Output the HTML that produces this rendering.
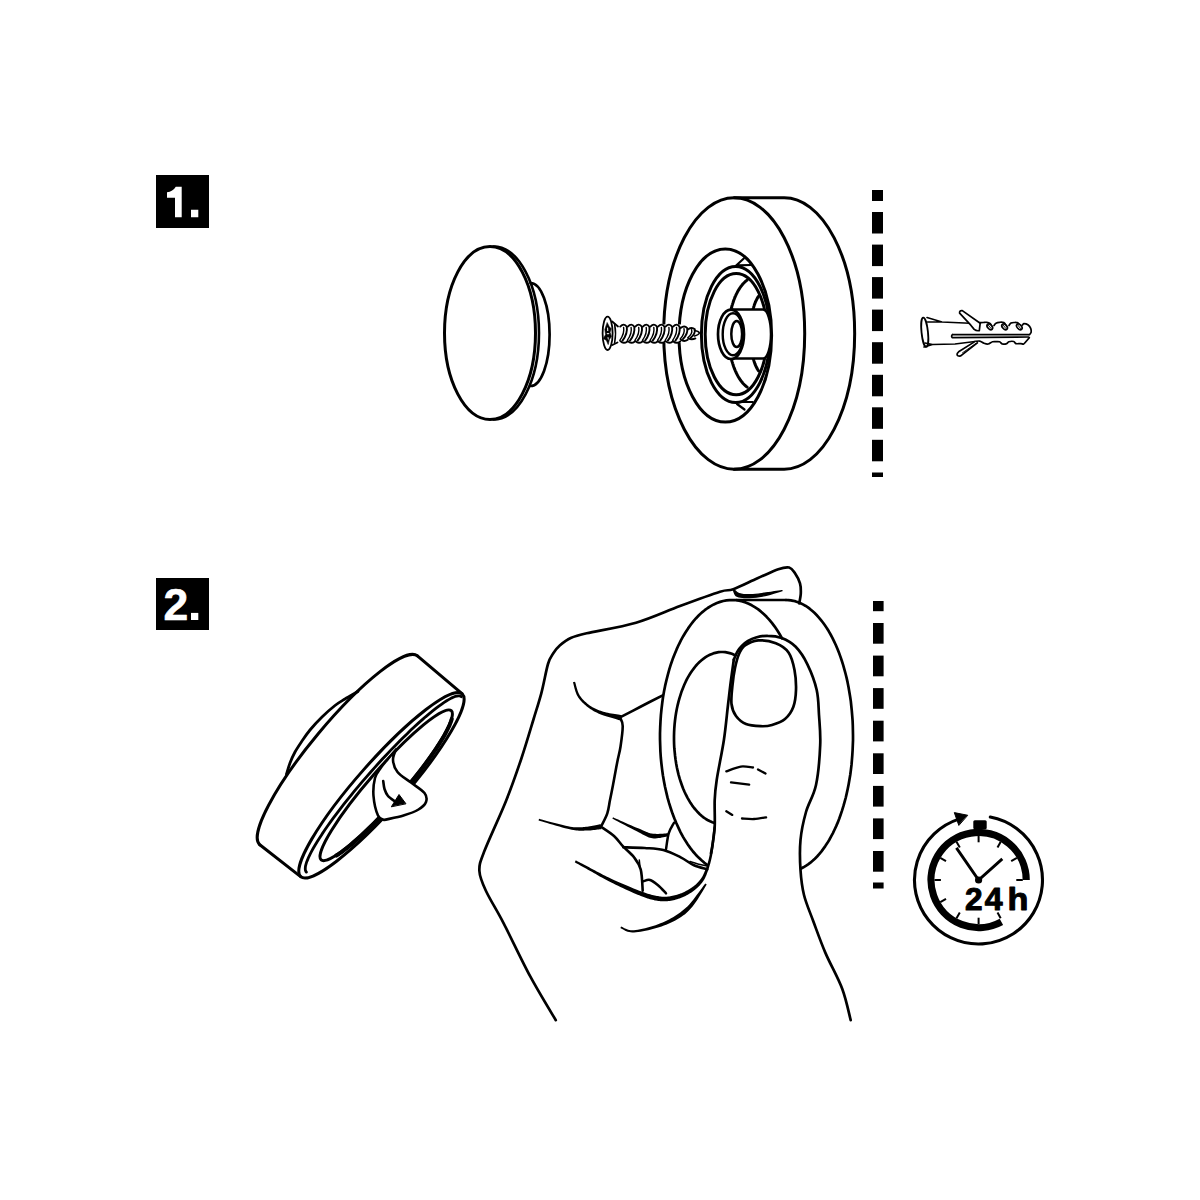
<!DOCTYPE html>
<html><head><meta charset="utf-8"><style>
html,body{margin:0;padding:0;background:#fff;}
svg{display:block;}
</style></head><body>
<svg width="1200" height="1200" viewBox="0 0 1200 1200" stroke-linecap="round" stroke-linejoin="round">
<rect width="1200" height="1200" fill="#fff"/>
<rect x="156" y="175" width="53" height="53" fill="#000"/>
<path d="M175.8 186.8 L181.7 186.8 L181.7 217.3 L175 217.3 L175 197.7 L167 197.7 L167 192.2 Q172.8 191.8 175.8 186.8 Z M191 209.8 L198.3 209.8 L198.3 217.3 L191 217.3 Z" fill="#fff"/>
<rect x="156" y="578" width="53" height="52" fill="#000"/>
<text x="163.5" y="619.5" font-family="Liberation Sans" font-weight="bold" font-size="44.5" fill="#fff" stroke="#fff" stroke-width="0.6">2</text>
<path d="M191 612.9 L198.3 612.9 L198.3 620 L191 620 Z" fill="#fff"/>
<ellipse cx="490" cy="333" rx="45.5" ry="86.5" fill="none" stroke="#000" stroke-width="3.0"/>
<path d="M493.5 246.5 A45.5 86.5 0 0 1 493.5 419.5" fill="none" stroke="#000" stroke-width="2.6"/>
<path d="M530.6 283 A19 51.5 0 0 1 530.6 386" fill="none" stroke="#000" stroke-width="2.7"/>
<ellipse cx="734.2" cy="333.5" rx="70.5" ry="135.7" fill="none" stroke="#000" stroke-width="3.0"/>
<path d="M734.2 197.8 L784.2 197.8 A70.5 135.7 0 0 1 784.2 469.2 L734.2 469.2" fill="none" stroke="#000" stroke-width="3.0"/>
<ellipse cx="725.3" cy="335.5" rx="46.3" ry="86.6" fill="none" stroke="#000" stroke-width="3.0"/>
<ellipse cx="735.7" cy="334.5" rx="34.3" ry="68" fill="none" stroke="#000" stroke-width="3.0"/>
<ellipse cx="736.2" cy="334.2" rx="31" ry="60.6" fill="none" stroke="#000" stroke-width="3.0"/>
<path d="M747.2 280.0 L746.7 280.4 L746.2 280.8 L745.7 281.3 L745.1 281.7 L744.6 282.2 L744.1 282.7 L743.6 283.2 L743.1 283.7 L742.6 284.3 L742.2 284.9 L741.7 285.5 L741.2 286.1 L740.7 286.7 L740.3 287.3 L739.8 288.0 L739.4 288.7 L739.0 289.4 L738.5 290.1 L738.1 290.8 L737.7 291.6 L737.3 292.3 L736.9 293.1 L736.5 293.9 L736.1 294.7 L735.7 295.6 L735.3 296.4 L735.0 297.2 L734.6 298.1 L734.3 299.0 L733.9 299.9 L733.6 300.8 L733.3 301.7 L733.0 302.7 L732.7 303.6 L732.4 304.6 L732.1 305.5 L731.8 306.5 L731.6 307.5 L731.3 308.5 L731.1 309.5" fill="none" stroke="#000" stroke-width="3.0"/>
<path d="M731.1 357.7 L731.3 358.7 L731.6 359.7 L731.8 360.7 L732.1 361.7 L732.4 362.6 L732.7 363.6 L733.0 364.5 L733.3 365.5 L733.6 366.4 L733.9 367.3 L734.3 368.2 L734.6 369.1 L735.0 370.0 L735.3 370.8 L735.7 371.6 L736.1 372.5 L736.5 373.3 L736.9 374.1 L737.3 374.9 L737.7 375.6 L738.1 376.4 L738.5 377.1 L739.0 377.8 L739.4 378.5 L739.8 379.2 L740.3 379.9 L740.7 380.5 L741.2 381.1 L741.7 381.7 L742.2 382.3 L742.6 382.9 L743.1 383.5 L743.6 384.0 L744.1 384.5 L744.6 385.0 L745.1 385.5 L745.7 385.9 L746.2 386.4 L746.7 386.8 L747.2 387.2" fill="none" stroke="#000" stroke-width="3.0"/>
<path d="M758.7 296.2 L758.5 296.4 L758.3 296.7 L758.2 296.9 L758.0 297.2 L757.8 297.4 L757.7 297.7 L757.5 297.9 L757.3 298.2 L757.2 298.5 L757.0 298.8 L756.9 299.1 L756.7 299.4 L756.6 299.7 L756.4 300.0 L756.3 300.3 L756.1 300.6 L756.0 300.9 L755.8 301.2 L755.7 301.6 L755.5 301.9 L755.4 302.2 L755.2 302.6 L755.1 302.9 L755.0 303.3 L754.8 303.6 L754.7 304.0 L754.6 304.4 L754.4 304.7 L754.3 305.1 L754.2 305.5 L754.1 305.9 L753.9 306.3 L753.8 306.7 L753.7 307.1 L753.6 307.5 L753.5 307.9 L753.3 308.3 L753.2 308.7 L753.1 309.1 L753.0 309.5" fill="none" stroke="#000" stroke-width="3.0"/>
<path d="M753.0 357.7 L753.1 358.1 L753.2 358.5 L753.3 358.9 L753.5 359.3 L753.6 359.7 L753.7 360.1 L753.8 360.5 L753.9 360.9 L754.1 361.3 L754.2 361.7 L754.3 362.1 L754.4 362.5 L754.6 362.8 L754.7 363.2 L754.8 363.6 L755.0 363.9 L755.1 364.3 L755.2 364.6 L755.4 365.0 L755.5 365.3 L755.7 365.6 L755.8 366.0 L756.0 366.3 L756.1 366.6 L756.3 366.9 L756.4 367.2 L756.6 367.5 L756.7 367.8 L756.9 368.1 L757.0 368.4 L757.2 368.7 L757.3 369.0 L757.5 369.3 L757.7 369.5 L757.8 369.8 L758.0 370.0 L758.2 370.3 L758.3 370.5 L758.5 370.8 L758.7 371.0" fill="none" stroke="#000" stroke-width="3.0"/>
<path d="M737.8 265.4 L750.5 265 M735.9 265.8 L743.8 258.5" fill="none" stroke="#000" stroke-width="2.2"/>
<path d="M741.5 402 L752.8 402 M737 404 L744.5 409.5" fill="none" stroke="#000" stroke-width="2.2"/>
<path d="M731 309.6 L763 309.6 A8 24.5 0 0 1 763 358.6 L730 358.6 Z" fill="#fff" stroke="#000" stroke-width="2.5"/>
<ellipse cx="731" cy="334.3" rx="13" ry="24.7" fill="#fff" stroke="#000" stroke-width="2.7"/>
<ellipse cx="733" cy="334.2" rx="10.3" ry="21" fill="none" stroke="#000" stroke-width="2.4"/>
<ellipse cx="736.7" cy="334" rx="5.4" ry="13" fill="none" stroke="#000" stroke-width="2.5"/>
<g stroke-linecap="round">
<path d="M613 322 L620 324.5 L690 324.5 L699 332 L690 342.5 L620 343 L613 345 Z" fill="#fff" stroke="none"/>
<ellipse cx="607.6" cy="333.3" rx="5" ry="16.7" fill="#fff" stroke="#000" stroke-width="1.8"/>
<path d="M612.2 321.5 L618 326.5 M612.4 345 L617.5 342.5" fill="none" stroke="#000" stroke-width="1.8"/>
<path d="M614.6 324 Q616.5 333.5 614.6 343" fill="none" stroke="#000" stroke-width="1.5"/>
<path d="M607.3 322.8 L609.2 326.5 L611.2 328.8 L610 332.2 L611.4 336.4 L609.4 339.6 L608.2 344.6 L606.4 340.4 L603.4 338.6 L605.6 334.6 L604.8 329.6 L605.8 326.4 Z" fill="#000" stroke="#000" stroke-width="0.6"/>
<path d="M606.4 333.6 Q608 332.6 609.6 333.6 Q608 335.2 606.4 333.6 Z M607.1 327.6 L608.1 327.8 L608.3 331 L607.2 331 Z M607.4 337.2 L608.8 337.6 L608.2 340.4 Z" fill="#fff"/>
<path d="M620.2 326.6 Q624.0 322.6 626.8 326.8 Q627.8 333.5 622.5 340.6" fill="none" stroke="#000" stroke-width="1.9"/>
<path d="M623.6 327.4 Q624.8 333.5 619.8 340.3" fill="none" stroke="#000" stroke-width="1.4"/>
<path d="M620.4 341.2 Q623.6 344.4 627.4 341.4" fill="none" stroke="#000" stroke-width="1.9"/>
<path d="M627.8 326.6 Q631.5 322.6 634.3 326.8 Q635.3 333.5 630.0 340.6" fill="none" stroke="#000" stroke-width="1.9"/>
<path d="M631.1 327.4 Q632.3 333.5 627.3 340.3" fill="none" stroke="#000" stroke-width="1.4"/>
<path d="M627.9 341.2 Q631.1 344.4 634.9 341.4" fill="none" stroke="#000" stroke-width="1.9"/>
<path d="M635.3 326.6 Q639.1 322.6 641.9 326.8 Q642.9 333.5 637.6 340.6" fill="none" stroke="#000" stroke-width="1.9"/>
<path d="M638.7 327.4 Q639.9 333.5 634.9 340.3" fill="none" stroke="#000" stroke-width="1.4"/>
<path d="M635.5 341.2 Q638.7 344.4 642.5 341.4" fill="none" stroke="#000" stroke-width="1.9"/>
<path d="M642.9 326.6 Q646.6 322.6 649.4 326.8 Q650.4 333.5 645.1 340.6" fill="none" stroke="#000" stroke-width="1.9"/>
<path d="M646.2 327.4 Q647.4 333.5 642.4 340.3" fill="none" stroke="#000" stroke-width="1.4"/>
<path d="M643.0 341.2 Q646.2 344.4 650.0 341.4" fill="none" stroke="#000" stroke-width="1.9"/>
<path d="M650.4 326.6 Q654.2 322.6 657.0 326.8 Q658.0 333.5 652.7 340.6" fill="none" stroke="#000" stroke-width="1.9"/>
<path d="M653.8 327.4 Q655.0 333.5 650.0 340.3" fill="none" stroke="#000" stroke-width="1.4"/>
<path d="M650.6 341.2 Q653.8 344.4 657.6 341.4" fill="none" stroke="#000" stroke-width="1.9"/>
<path d="M658.0 326.6 Q661.8 322.6 664.5 326.8 Q665.5 333.5 660.2 340.6" fill="none" stroke="#000" stroke-width="1.9"/>
<path d="M661.4 327.4 Q662.5 333.5 657.5 340.3" fill="none" stroke="#000" stroke-width="1.4"/>
<path d="M658.1 341.2 Q661.4 344.4 665.1 341.4" fill="none" stroke="#000" stroke-width="1.9"/>
<path d="M665.5 326.6 Q669.3 322.6 672.1 326.8 Q673.1 333.5 667.8 340.6" fill="none" stroke="#000" stroke-width="1.9"/>
<path d="M668.9 327.4 Q670.1 333.5 665.1 340.3" fill="none" stroke="#000" stroke-width="1.4"/>
<path d="M665.7 341.2 Q668.9 344.4 672.7 341.4" fill="none" stroke="#000" stroke-width="1.9"/>
<path d="M673.1 326.6 Q676.9 322.6 679.6 326.8 Q680.6 333.5 675.4 340.6" fill="none" stroke="#000" stroke-width="1.9"/>
<path d="M676.5 327.4 Q677.6 333.5 672.6 340.3" fill="none" stroke="#000" stroke-width="1.4"/>
<path d="M673.2 341.2 Q676.5 344.4 680.2 341.4" fill="none" stroke="#000" stroke-width="1.9"/>
<path d="M680.6 328.0 Q684.4 324.8 687.2 328.1 Q688.2 333.5 682.9 339.2" fill="none" stroke="#000" stroke-width="1.9"/>
<path d="M684.0 328.6 Q685.2 333.5 680.2 338.9" fill="none" stroke="#000" stroke-width="1.4"/>
<path d="M680.8 339.7 Q684.0 342.2 687.8 339.8" fill="none" stroke="#000" stroke-width="1.9"/>
<path d="M688.2 329.2 Q692.0 326.7 694.8 329.3 Q695.8 333.5 690.5 337.9" fill="none" stroke="#000" stroke-width="1.9"/>
<path d="M691.6 329.7 Q692.8 333.5 687.8 337.7" fill="none" stroke="#000" stroke-width="1.4"/>
<path d="M688.4 338.3 Q691.6 340.3 695.4 338.4" fill="none" stroke="#000" stroke-width="1.9"/>
<path d="M694.5 330.5 Q698.5 331 699.5 333 Q698.5 335 694.5 336" fill="none" stroke="#000" stroke-width="1.6"/>
</g>
<g stroke-linejoin="round">
<ellipse cx="924.75" cy="332.25" rx="3.2" ry="14.75" fill="none" stroke="#000" stroke-width="1.8" transform="rotate(-6 924.75 332.25)"/>
<path d="M927 317.5 L942 322 L970 323.2 M927.5 322 L942 322" fill="none" stroke="#000" stroke-width="1.6"/>
<path d="M924 347 L932.5 344.5 L955 344 L975 341.5 M925 343 L932.5 344.5" fill="none" stroke="#000" stroke-width="1.6"/>
<path d="M962.3 310.6 Q959.2 310.2 959.6 313.2 L970.8 325.2 L974.2 329.4 Q976.5 331.2 979.3 330.6 L980.2 323.2 Z" fill="#fff" stroke="#000" stroke-width="1.7"/>
<path d="M979.7 322.7 C980.3 322.7 982.1 322.6 983.3 322.5 C984.5 322.4 985.7 322.1 986.8 322.3 C987.9 322.5 989.2 322.9 990.0 323.5 C990.8 324.1 991.5 325.8 991.8 326.2 M994.0 325.5 C994.3 325.1 995.1 323.7 996.0 323.2 C996.9 322.7 998.3 322.4 999.6 322.3 C1000.9 322.2 1002.6 322.0 1003.8 322.6 C1005.0 323.2 1006.2 325.6 1006.7 326.2 M1009.0 325.5 C1009.3 325.1 1010.2 323.5 1011.0 323.0 C1011.8 322.5 1012.8 322.5 1014.0 322.5 C1015.2 322.5 1016.9 322.2 1018.0 323.0 C1019.1 323.8 1020.3 326.3 1020.8 327.0 M1022.5 325.0 C1022.8 324.8 1023.1 323.6 1024.0 323.6 C1024.9 323.6 1026.8 324.0 1027.9 324.8 C1029.0 325.6 1030.2 327.1 1030.7 328.4 C1031.2 329.7 1031.3 331.3 1031.1 332.4 C1030.9 333.4 1029.6 334.3 1029.3 334.7" fill="none" stroke="#000" stroke-width="1.7"/>
<ellipse cx="989.8" cy="326.8" rx="3.4" ry="2.1" transform="rotate(48 989.8 326.8)" fill="#fff" stroke="#000" stroke-width="1.7"/>
<path d="M988.2 325.0 L991.2 328.6" fill="none" stroke="#000" stroke-width="0.9"/>
<ellipse cx="1004.6" cy="326.8" rx="3.4" ry="2.1" transform="rotate(48 1004.6 326.8)" fill="#fff" stroke="#000" stroke-width="1.7"/>
<path d="M1003.0 325.0 L1006.0 328.6" fill="none" stroke="#000" stroke-width="0.9"/>
<ellipse cx="1019.3" cy="326.8" rx="3.4" ry="2.1" transform="rotate(48 1019.3 326.8)" fill="#fff" stroke="#000" stroke-width="1.7"/>
<path d="M1017.7 325.0 L1020.7 328.6" fill="none" stroke="#000" stroke-width="0.9"/>
<path d="M952.3 334.7 L1028.6 334.7 M952.3 337.6 L1028.6 337 M952.3 334.7 Q951 336.2 952.3 337.6" fill="none" stroke="#000" stroke-width="1.7"/>
<path d="M975.0 341.5 C975.8 341.4 978.2 340.8 979.7 341.1 C981.2 341.4 982.6 342.7 984.0 343.2 C985.4 343.7 986.8 344.2 988.2 344.0 C989.6 343.8 991.2 342.2 992.5 341.8 C993.8 341.4 994.8 341.6 996.0 341.6 C997.2 341.6 998.5 341.4 999.6 341.8 C1000.7 342.2 1001.2 343.7 1002.4 344.0 C1003.6 344.3 1005.6 344.0 1006.7 343.6 C1007.8 343.2 1007.6 342.2 1008.8 341.8 C1010.0 341.4 1012.5 341.2 1013.7 341.5 C1014.9 341.8 1014.7 343.2 1015.9 343.6 C1017.1 344.0 1019.5 343.5 1020.8 343.6 C1022.1 343.7 1022.8 344.4 1023.7 344.0 C1024.7 343.6 1025.6 342.1 1026.5 341.0 C1027.4 339.9 1028.8 338.2 1029.3 337.6" fill="none" stroke="#000" stroke-width="1.7"/>
<path d="M974.8 341.6 L958.6 351.8 Q955.8 354.3 958 355.8 Q960 356.8 962 354.8 L977.4 342.8" fill="#fff" stroke="#000" stroke-width="1.7"/>
<path d="M962.5 352.8 L976.2 343.2" fill="none" stroke="#000" stroke-width="0.9"/>
</g>
<g fill="none" stroke="#000" stroke-linecap="round" stroke-linejoin="round">
<g transform="translate(338.6 750.35) rotate(-50.15)"><path d="M123 0 A123 26.3 0 0 0 -123 0" stroke-width="3"/></g>
<path d="M358.0 691.5 C355.8 692.8 348.8 696.7 345.0 699.0 C341.2 701.3 338.8 702.5 335.0 705.5 C331.2 708.5 326.2 712.9 322.0 717.0 C317.8 721.1 313.3 726.0 310.0 730.0 C306.7 734.0 304.5 737.3 302.0 741.0 C299.5 744.7 297.0 748.3 295.0 752.0 C293.0 755.7 291.4 759.3 290.0 763.0 C288.6 766.7 287.1 772.2 286.5 774.0" fill="none" stroke="#000" stroke-width="2.8"/>
<path d="M417.4 655.9 L462 693.6 M259.8 844.8 L300.6 876.6" fill="none" stroke="#000" stroke-width="3"/>
<g transform="translate(381.75 785.5) rotate(-48.57)"><ellipse cx="0" cy="-0.4" rx="122" ry="23.6" stroke-width="3"/><path d="M-114.8 0.8 L-114.6 -0.1 L-114.1 -1.1 L-113.3 -2.0 L-112.2 -2.9 L-110.8 -3.9 L-109.0 -4.8 L-107.0 -5.7 L-104.6 -6.5 L-102.0 -7.4 L-99.1 -8.2 L-95.9 -9.0 L-92.4 -9.8 L-88.7 -10.5 L-84.7 -11.2 L-80.5 -11.9 L-76.0 -12.6 L-71.4 -13.2 L-66.5 -13.8 L-61.5 -14.3 L-56.3 -14.8 L-50.9 -15.2 L-45.3 -15.6 L-39.7 -16.0 L-33.9 -16.3 L-28.0 -16.6 L-22.1 -16.8 L-16.1 -17.0 L-10.0 -17.1 L-3.9 -17.2 L2.2 -17.2 L8.4 -17.2 L14.5 -17.1 L20.6 -17.0 L26.6 -16.8 L32.5 -16.6 L38.4 -16.3 L44.2 -16.0 L49.8 -15.6 L55.4 -15.2 L60.8 -14.8 L66.0 -14.3 L71.0 -13.8 L75.9 -13.2 L80.5 -12.6 L85.0 -11.9 L89.2 -11.2 L93.2 -10.5 L96.9 -9.8 L100.4 -9.0 L103.6 -8.2 L106.5 -7.4 L109.1 -6.5 L111.5 -5.7 L113.5 -4.8 L115.3 -3.9 L116.7 -2.9 L117.8 -2.0 L118.6 -1.1 L119.1 -0.1 L119.2 0.8" stroke-width="2.8"/></g>
<g transform="translate(386.4 785.5) rotate(-48.92)"><ellipse cx="0" cy="-0.27" rx="99" ry="16.4" stroke-width="3"/><path d="M93.0 5.6 L91.0 6.5 L88.6 7.4 L86.0 8.3 L83.0 9.1 L79.8 9.9 L76.4 10.7 L72.7 11.4 L68.8 12.1 L64.6 12.8 L60.3 13.4 L55.7 13.9 L51.0 14.5 L46.1 15.0 L41.1 15.4 L35.9 15.8 L30.6 16.1 L25.2 16.4 L19.7 16.6 L14.2 16.8 L8.6 16.9 L3.0 16.9 L-2.6 16.9 L-8.2 16.9 L-13.8 16.8 L-19.3 16.6 L-24.8 16.4 L-30.2 16.1 L-35.5 15.8 L-40.7 15.4 L-45.7 15.0 L-50.6 14.5 L-55.4 14.0 L-59.9 13.4 L-64.3 12.8 L-68.5 12.2 L-72.4 11.5 L-76.1 10.7 L-79.6 10.0 L-82.8 9.2 L-85.7 8.3" stroke-width="4"/></g>
<path d="M396.0 749.5 C395.5 751.2 392.8 756.2 393.0 760.0 C393.2 763.8 394.5 768.2 397.5 772.0 C400.5 775.8 406.5 779.0 411.0 782.5 C415.5 786.0 422.0 789.8 424.5 793.0 C427.0 796.2 427.0 799.2 426.0 802.0 C425.0 804.8 422.2 807.2 418.5 809.5 C414.8 811.8 409.2 813.8 403.5 815.5 C397.8 817.2 387.2 819.2 384.0 820.0 L384.0 820.0 C383.0 819.2 379.8 819.5 378.0 815.5 C376.2 811.5 374.0 802.2 373.5 796.0 C373.0 789.8 373.8 782.8 375.0 778.0 C376.2 773.2 378.8 770.7 381.0 767.5 C383.2 764.3 386.8 760.4 388.0 759.0 L396 749.5" fill="#fff" stroke="#000" stroke-width="2.6"/>
<path d="M383.2 781.0 C383.5 782.3 383.7 786.5 384.5 789.0 C385.3 791.5 386.2 793.9 388.0 796.0 C389.8 798.1 393.8 800.6 395.0 801.5" fill="none" stroke="#000" stroke-width="2.6"/>
<path d="M391.5 806.5 L399 794.5 L405.75 803.5 Z" fill="#000" stroke="#000" stroke-width="1"/>
</g>
<g fill="none" stroke="#000" stroke-width="2.4" stroke-linecap="round" stroke-linejoin="round">
<path d="M555.8 1020.2 C551.5 1013.0 539.1 992.8 530.4 976.7 C521.7 960.6 511.2 937.9 503.8 923.6 C496.4 909.3 490.1 899.8 486.0 891.0 C481.9 882.2 479.7 877.6 479.4 871.0 C479.1 864.4 479.9 862.9 484.4 851.1 C488.9 839.3 500.1 815.8 506.2 800.4 C512.4 785.0 516.8 772.1 521.3 758.7 C525.8 745.3 530.0 730.9 533.3 720.0 C536.6 709.1 538.8 702.6 541.3 693.3 C543.8 684.0 546.0 670.7 548.0 664.0 C550.0 657.3 551.3 656.4 553.3 653.3 C555.3 650.2 557.1 647.8 560.0 645.3 C562.9 642.8 566.2 640.0 570.7 638.0 C575.2 636.0 575.8 635.8 586.7 633.3 C597.6 630.8 620.5 627.2 636.0 622.7 C651.5 618.2 666.0 611.2 680.0 606.0 C694.0 600.8 711.1 594.5 720.0 591.7 C728.9 588.9 727.0 591.4 733.3 589.2 C739.5 587.0 750.0 581.6 757.5 578.3 C765.0 575.0 773.0 571.0 778.3 569.2 C783.6 567.4 786.4 566.8 789.2 567.5 C792.0 568.2 793.2 570.7 795.0 573.3 C796.8 575.9 799.0 580.0 800.0 583.3 C801.0 586.6 800.9 590.0 800.8 593.3 C800.7 596.6 799.5 601.6 799.2 603.3" fill="none" stroke="#000" stroke-width="2.7"/>
<path d="M733.3 589.2 C734.2 589.9 736.0 592.7 739.0 593.6 C742.0 594.5 746.5 594.9 751.0 594.8 C755.5 594.7 760.8 593.7 766.0 593.0 C771.2 592.3 779.3 591.0 782.0 590.6 L782.0 590.6 C779.2 591.4 770.4 594.4 765.0 595.6 C759.6 596.8 754.2 597.5 749.5 597.6 C744.8 597.7 739.7 597.5 737.0 596.2 C734.3 594.9 733.9 590.7 733.3 589.6Z" fill="#000" stroke="#000" stroke-width="1.4"/>
<path d="M572.95 682.32 L573.15 682.99 L573.37 683.84 L573.62 684.87 L573.91 686.03 L574.23 687.30 L574.59 688.64 L574.99 690.03 L575.42 691.43 L575.91 692.82 L576.44 694.16 L577.03 695.44 L577.68 696.62 L578.38 697.70 L579.13 698.75 L579.93 699.78 L580.78 700.78 L581.67 701.75 L582.59 702.70 L583.54 703.61 L584.51 704.50 L585.51 705.36 L586.51 706.19 L587.53 706.98 L588.55 707.75 L589.58 708.47 L590.61 709.18 L591.65 709.86 L592.70 710.51 L593.77 711.13 L594.87 711.73 L595.99 712.30 L597.15 712.86 L598.33 713.40 L599.55 713.93 L600.81 714.45 L602.13 714.97 L603.57 715.50 L605.17 716.03 L606.87 716.56 L608.63 717.07 L610.43 717.57 L612.21 718.08 L613.93 718.59 L615.56 719.06 L617.06 719.50 L618.39 719.88 L619.50 720.21 L620.37 720.48 L621.63 715.12 L620.70 714.97 L619.51 714.79 L618.13 714.58 L616.59 714.36 L614.92 714.11 L613.17 713.84 L611.38 713.53 L609.59 713.17 L607.85 712.80 L606.19 712.41 L604.65 712.02 L603.27 711.63 L601.99 711.22 L600.75 710.81 L599.55 710.39 L598.39 709.96 L597.26 709.51 L596.17 709.05 L595.10 708.56 L594.06 708.05 L593.03 707.52 L592.02 706.95 L591.03 706.33 L590.05 705.65 L589.07 704.94 L588.09 704.19 L587.12 703.42 L586.17 702.61 L585.23 701.78 L584.33 700.93 L583.45 700.05 L582.61 699.15 L581.81 698.23 L581.06 697.29 L580.36 696.34 L579.72 695.38 L579.14 694.36 L578.60 693.23 L578.09 691.99 L577.62 690.69 L577.19 689.36 L576.79 688.02 L576.42 686.72 L576.09 685.47 L575.79 684.32 L575.52 683.28 L575.27 682.39 L575.05 681.68Z" fill="#000" stroke="none"/>
<path d="M620.0 717.3 C623.3 715.6 632.9 710.7 640.0 707.0 C647.1 703.3 658.9 697.2 662.7 695.3" fill="none" stroke="#000" stroke-width="2.6"/>
<path d="M620.0 717.3 C620.5 718.8 622.6 721.1 622.7 726.0 C622.8 730.9 621.4 740.7 620.5 746.7 C619.6 752.7 618.5 755.6 617.3 762.0 C616.0 768.4 614.2 778.7 613.0 785.0 C611.8 791.3 611.0 795.3 610.0 800.0 C609.0 804.7 608.8 808.8 607.3 813.3 C605.8 817.8 602.0 824.5 601.0 826.7" fill="none" stroke="#000" stroke-width="2.6"/>
<path d="M538.56 820.57 L540.11 821.01 L542.11 821.60 L544.50 822.31 L547.18 823.11 L550.07 823.97 L553.11 824.86 L556.20 825.75 L559.27 826.62 L562.24 827.44 L565.02 828.17 L567.56 828.80 L569.75 829.30 L571.64 829.70 L573.36 830.02 L574.94 830.27 L576.38 830.45 L577.73 830.57 L579.00 830.64 L580.21 830.67 L581.37 830.68 L582.52 830.66 L583.67 830.63 L584.85 830.61 L586.10 830.60 L587.48 830.56 L588.93 830.49 L590.41 830.38 L591.91 830.24 L593.39 830.10 L594.84 829.94 L596.23 829.78 L597.53 829.62 L598.72 829.48 L599.77 829.35 L600.65 829.25 L601.36 829.17 L600.64 824.23 L599.90 824.36 L598.99 824.55 L597.94 824.77 L596.77 825.01 L595.50 825.28 L594.16 825.55 L592.77 825.82 L591.35 826.08 L589.93 826.31 L588.54 826.51 L587.19 826.68 L585.90 826.80 L584.65 826.91 L583.46 827.02 L582.33 827.13 L581.23 827.22 L580.14 827.30 L579.02 827.35 L577.86 827.37 L576.61 827.34 L575.25 827.28 L573.75 827.15 L572.09 826.96 L570.25 826.70 L568.11 826.30 L565.61 825.75 L562.84 825.09 L559.87 824.36 L556.80 823.57 L553.69 822.75 L550.64 821.94 L547.73 821.16 L545.03 820.43 L542.63 819.78 L540.60 819.24 L539.04 818.83Z" fill="#000" stroke="none"/>
<path d="M601.0 826.7 C603.2 828.2 610.3 832.7 614.0 836.0 C617.7 839.3 620.0 843.2 623.3 846.7 C626.6 850.2 631.1 853.5 634.0 857.3 C636.9 861.1 639.2 863.7 640.7 869.3 C642.2 874.9 642.4 887.1 642.7 890.7" fill="none" stroke="#000" stroke-width="2.6"/>
<path d="M733.8 659.7 C733.3 663.1 732.0 672.5 731.0 680.0 C730.0 687.5 729.2 695.0 728.0 705.0 C726.8 715.0 725.8 727.5 723.9 740.0 C722.0 752.5 718.2 770.0 716.7 780.0 C715.2 790.0 715.0 792.2 714.7 800.0 C714.4 807.8 715.1 819.2 714.7 826.7 C714.3 834.2 713.1 840.6 712.5 845.0 C711.9 849.4 711.2 851.9 711.0 853.3" fill="none" stroke="#000" stroke-width="2.7"/>
<path d="M713.51 826.56 L713.40 827.46 L713.26 828.61 L713.10 829.97 L712.92 831.50 L712.73 833.16 L712.52 834.90 L712.31 836.68 L712.09 838.47 L711.88 840.22 L711.66 841.89 L711.46 843.44 L711.26 844.83 L711.08 846.10 L710.91 847.31 L710.73 848.48 L710.56 849.60 L710.39 850.68 L710.22 851.73 L710.05 852.76 L709.87 853.76 L709.68 854.75 L709.48 855.74 L709.27 856.73 L709.05 857.72 L708.82 858.71 L708.58 859.68 L708.34 860.64 L708.10 861.58 L707.84 862.51 L707.58 863.43 L707.31 864.34 L707.02 865.25 L706.71 866.14 L706.39 867.03 L706.05 867.92 L705.70 868.82 L705.34 869.73 L704.98 870.64 L704.61 871.54 L704.25 872.44 L703.87 873.32 L703.48 874.19 L703.07 875.05 L702.64 875.89 L702.19 876.71 L701.72 877.52 L701.21 878.30 L700.67 879.06 L700.09 879.82 L699.47 880.58 L698.84 881.33 L698.17 882.06 L697.48 882.78 L696.76 883.49 L696.01 884.19 L695.24 884.88 L694.44 885.55 L693.62 886.20 L692.77 886.85 L691.89 887.47 L690.97 888.09 L690.01 888.71 L689.01 889.32 L687.98 889.93 L686.92 890.51 L685.84 891.09 L684.75 891.64 L683.64 892.16 L682.53 892.66 L681.43 893.14 L680.34 893.58 L679.25 893.99 L678.17 894.36 L677.06 894.72 L675.94 895.04 L674.81 895.34 L673.67 895.62 L672.53 895.86 L671.40 896.08 L670.27 896.27 L669.14 896.43 L668.03 896.55 L666.94 896.65 L665.87 896.71 L664.83 896.74 L663.82 896.74 L662.84 896.71 L661.87 896.65 L660.91 896.56 L659.94 896.44 L658.95 896.30 L657.95 896.12 L656.92 895.92 L655.85 895.69 L654.72 895.45 L653.55 895.20 L652.37 894.92 L651.20 894.64 L650.04 894.33 L648.86 894.00 L647.66 893.65 L646.43 893.26 L645.14 892.84 L643.79 892.37 L642.36 891.86 L640.85 891.31 L639.23 890.69 L637.51 890.02 L635.63 889.28 L633.59 888.45 L631.41 887.55 L629.13 886.59 L626.77 885.60 L624.37 884.57 L621.95 883.53 L619.56 882.48 L617.20 881.44 L614.93 880.42 L612.76 879.43 L610.73 878.50 L608.81 877.59 L606.95 876.69 L605.13 875.79 L603.36 874.89 L601.64 874.00 L599.96 873.11 L598.32 872.24 L596.72 871.38 L595.15 870.53 L593.61 869.71 L592.11 868.91 L590.63 868.13 L589.16 867.37 L587.68 866.59 L586.21 865.82 L584.75 865.05 L583.34 864.30 L581.97 863.58 L580.68 862.90 L579.47 862.26 L578.36 861.67 L577.38 861.15 L576.53 860.70 L575.83 860.33 L574.77 862.27 L575.46 862.65 L576.30 863.13 L577.27 863.67 L578.36 864.29 L579.55 864.96 L580.83 865.68 L582.17 866.44 L583.57 867.22 L585.01 868.03 L586.46 868.85 L587.92 869.66 L589.37 870.47 L590.81 871.28 L592.29 872.11 L593.79 872.98 L595.34 873.86 L596.92 874.77 L598.54 875.69 L600.21 876.63 L601.92 877.59 L603.68 878.55 L605.49 879.53 L607.35 880.52 L609.27 881.50 L611.29 882.52 L613.44 883.58 L615.69 884.68 L618.02 885.81 L620.40 886.95 L622.79 888.08 L625.17 889.19 L627.51 890.27 L629.79 891.30 L631.96 892.27 L634.01 893.17 L635.89 893.98 L637.63 894.70 L639.26 895.37 L640.80 895.99 L642.26 896.55 L643.65 897.07 L644.98 897.55 L646.27 897.99 L647.53 898.40 L648.76 898.79 L649.99 899.14 L651.21 899.48 L652.45 899.80 L653.67 900.10 L654.85 900.38 L656.00 900.61 L657.13 900.80 L658.25 900.98 L659.35 901.12 L660.45 901.23 L661.56 901.31 L662.67 901.36 L663.80 901.37 L664.95 901.35 L666.13 901.29 L667.33 901.19 L668.54 901.06 L669.76 900.89 L670.99 900.69 L672.23 900.46 L673.47 900.20 L674.70 899.91 L675.93 899.58 L677.15 899.23 L678.37 898.85 L679.56 898.44 L680.75 898.01 L681.93 897.54 L683.11 897.03 L684.29 896.49 L685.47 895.91 L686.63 895.30 L687.78 894.66 L688.91 894.01 L690.02 893.33 L691.09 892.64 L692.14 891.94 L693.15 891.24 L694.11 890.53 L695.04 889.80 L695.94 889.07 L696.81 888.31 L697.65 887.55 L698.46 886.76 L699.24 885.97 L700.00 885.16 L700.72 884.34 L701.41 883.51 L702.08 882.66 L702.72 881.81 L703.33 880.94 L703.91 880.04 L704.45 879.13 L704.95 878.20 L705.41 877.27 L705.84 876.33 L706.24 875.39 L706.61 874.45 L706.97 873.51 L707.31 872.57 L707.64 871.64 L707.97 870.71 L708.30 869.78 L708.62 868.85 L708.93 867.91 L709.23 866.97 L709.51 866.03 L709.79 865.10 L710.07 864.15 L710.34 863.20 L710.59 862.25 L710.84 861.28 L711.08 860.29 L711.32 859.30 L711.55 858.28 L711.77 857.26 L711.98 856.25 L712.18 855.23 L712.36 854.22 L712.54 853.19 L712.72 852.14 L712.89 851.07 L713.05 849.98 L713.22 848.85 L713.39 847.67 L713.56 846.45 L713.74 845.17 L713.92 843.77 L714.12 842.20 L714.33 840.52 L714.54 838.76 L714.75 836.97 L714.95 835.18 L715.15 833.44 L715.33 831.78 L715.51 830.25 L715.66 828.89 L715.79 827.74 L715.89 826.84Z" fill="#000" stroke="none"/>
<path d="M620.37 928.14 L620.92 928.36 L621.53 928.68 L622.26 929.10 L623.10 929.59 L624.05 930.12 L625.11 930.66 L626.29 931.17 L627.60 931.64 L629.02 932.03 L630.58 932.31 L632.27 932.45 L634.07 932.42 L636.03 932.26 L638.20 932.00 L640.54 931.65 L643.03 931.22 L645.63 930.71 L648.30 930.13 L651.02 929.49 L653.74 928.80 L656.42 928.06 L659.05 927.27 L661.56 926.43 L663.94 925.56 L666.20 924.66 L668.42 923.73 L670.61 922.75 L672.76 921.72 L674.89 920.64 L676.99 919.49 L679.05 918.28 L681.08 916.99 L683.08 915.62 L685.04 914.16 L686.90 912.53 L688.72 910.79 L690.55 908.84 L692.39 906.63 L694.22 904.25 L696.01 901.75 L697.76 899.18 L699.41 896.60 L700.97 894.06 L702.41 891.65 L703.73 889.43 L704.91 887.46 L705.91 885.80 L706.74 884.52 L705.26 883.48 L704.31 884.71 L703.15 886.29 L701.80 888.16 L700.28 890.25 L698.64 892.51 L696.89 894.87 L695.07 897.28 L693.23 899.68 L691.35 902.00 L689.49 904.17 L687.65 906.13 L685.88 907.81 L684.11 909.31 L682.29 910.74 L680.51 912.17 L678.70 913.53 L676.84 914.83 L674.94 916.06 L673.00 917.23 L671.01 918.36 L668.99 919.44 L666.92 920.47 L664.81 921.47 L662.66 922.44 L660.42 923.37 L658.03 924.28 L655.52 925.16 L652.93 926.00 L650.30 926.79 L647.66 927.50 L645.06 928.16 L642.53 928.73 L640.11 929.23 L637.84 929.65 L635.76 929.96 L633.93 930.18 L632.31 930.25 L630.83 930.17 L629.45 929.97 L628.18 929.67 L627.01 929.29 L625.92 928.86 L624.93 928.39 L624.01 927.92 L623.17 927.47 L622.39 927.05 L621.66 926.70 L621.03 926.46Z" fill="#000" stroke="none"/>
<path d="M612.38 818.68 L613.68 819.35 L615.37 820.24 L617.39 821.29 L619.65 822.47 L622.09 823.75 L624.65 825.08 L627.25 826.44 L629.84 827.78 L632.33 829.06 L634.67 830.26 L636.77 831.36 L638.58 832.28 L640.10 833.06 L641.45 833.78 L642.66 834.43 L643.77 835.04 L644.81 835.60 L645.80 836.12 L646.79 836.60 L647.79 837.04 L648.83 837.43 L649.94 837.78 L651.11 838.08 L652.41 838.34 L653.86 838.50 L655.41 838.45 L657.00 838.32 L658.60 838.12 L660.20 837.88 L661.77 837.60 L663.29 837.31 L664.71 837.02 L666.01 836.75 L667.15 836.51 L668.11 836.32 L668.86 836.19 L668.54 833.21 L667.73 833.25 L666.70 833.33 L665.52 833.43 L664.20 833.54 L662.79 833.66 L661.30 833.76 L659.78 833.84 L658.26 833.89 L656.79 833.90 L655.39 833.85 L654.13 833.74 L652.99 833.66 L651.96 833.55 L651.00 833.39 L650.12 833.20 L649.27 832.96 L648.41 832.67 L647.52 832.33 L646.57 831.93 L645.53 831.48 L644.37 830.97 L643.08 830.40 L641.64 829.78 L640.02 829.12 L638.15 828.36 L635.98 827.46 L633.58 826.44 L631.01 825.31 L628.36 824.14 L625.68 822.95 L623.04 821.78 L620.52 820.66 L618.19 819.62 L616.12 818.70 L614.37 817.92 L613.02 817.32Z" fill="#000" stroke="none"/>
<path d="M674.0 822.7 C673.1 824.5 670.0 828.9 668.7 833.3 C667.4 837.7 666.5 846.6 666.0 849.3" fill="none" stroke="#000" stroke-width="2.5"/>
<path d="M623.3 847.3 C626.9 847.4 638.0 847.5 644.7 848.0 C651.4 848.5 657.3 848.5 663.3 850.0 C669.3 851.5 675.6 854.8 680.7 857.3 C685.8 859.8 689.6 863.3 694.0 865.3 C698.4 867.3 705.1 868.6 707.3 869.3" fill="none" stroke="#000" stroke-width="2.6"/>
<path d="M690.0 861.5 C691.7 862.0 697.1 863.8 700.0 864.5 C702.9 865.2 706.1 865.8 707.3 866.0" fill="none" stroke="#000" stroke-width="1.5"/>
<path d="M643.3 881.3 C644.4 881.1 647.5 879.3 650.0 880.0 C652.5 880.7 655.3 883.1 658.0 885.3 C660.7 887.5 664.7 892.0 666.0 893.3" fill="none" stroke="#000" stroke-width="2.5"/>
<path d="M639.3 860 L640 866.7" fill="none" stroke="#000" stroke-width="1.5"/>
<path d="M782.0 638.3 L779.7 634.2 L777.2 630.3 L774.7 626.6 L772.1 623.1 L769.4 619.8 L766.6 616.8 L763.7 614.0 L760.8 611.4 L757.9 609.1 L754.8 607.1 L751.8 605.3 L748.7 603.7 L745.6 602.4 L742.4 601.4 L739.2 600.7 L736.0 600.2 L732.8 600.0 L729.6 600.1 L726.4 600.4 L723.2 601.0 L720.1 601.9 L716.9 603.0 L713.8 604.4 L710.7 606.1 L707.7 608.0 L704.7 610.2 L701.7 612.6 L698.9 615.3 L696.1 618.2 L693.3 621.4 L690.7 624.8 L688.1 628.4 L685.6 632.2 L683.2 636.2 L680.9 640.4 L678.7 644.8 L676.6 649.4 L674.6 654.2 L672.7 659.1 L670.9 664.2 L669.3 669.4 L667.8 674.8 L666.4 680.3 L665.1 685.9 L664.0 691.6 L663.0 697.3 L662.2 703.2 L661.5 709.1 L660.9 715.1 L660.5 721.1 L660.2 727.2 L660.0 733.3 L660.0 739.3 L660.2 745.4 L660.4 751.5 L660.8 757.5 L661.4 763.5 L662.1 769.4 L662.9 775.3 L663.9 781.1 L665.0 786.8 L666.3 792.4 L667.6 797.9 L669.1 803.2 L670.8 808.5 L672.5 813.6 L674.4 818.5 L676.4 823.3 L678.5 827.9 L680.6 832.3 L682.9 836.6 L685.3 840.6 L687.8 844.5 L690.4 848.1 L693.0 851.5 L695.8 854.7 L698.6 857.6 L701.5 860.3 L704.4 862.8 L707.4 865.0" fill="none" stroke="#000" stroke-width="2.7"/>
<path d="M786.0 600.0 L788.4 600.1 L790.9 600.4 L793.3 600.8 L795.7 601.4 L798.1 602.3 L800.5 603.2 L802.9 604.4 L805.3 605.7 L807.6 607.2 L809.9 608.9 L812.1 610.8 L814.4 612.8 L816.6 615.0 L818.7 617.3 L820.8 619.8 L822.9 622.5 L824.9 625.3 L826.9 628.2 L828.8 631.3 L830.6 634.5 L832.4 637.9 L834.1 641.4 L835.8 645.0 L837.4 648.8 L838.9 652.6 L840.4 656.6 L841.8 660.7 L843.1 664.8 L844.3 669.1 L845.5 673.5 L846.6 677.9 L847.6 682.4 L848.5 687.0 L849.3 691.7 L850.1 696.4 L850.8 701.1 L851.3 706.0 L851.8 710.8 L852.2 715.7 L852.6 720.6 L852.8 725.5 L852.9 730.5 L853.0 735.4 L853.0 740.4 L852.8 745.3 L852.6 750.3 L852.3 755.2 L851.9 760.1 L851.5 764.9 L850.9 769.8 L850.3 774.5 L849.5 779.3 L848.7 783.9 L847.8 788.5 L846.8 793.1 L845.8 797.5 L844.6 801.9 L843.4 806.2 L842.1 810.4 L840.7 814.5 L839.3 818.5 L837.8 822.4 L836.2 826.1 L834.5 829.8 L832.8 833.3 L831.0 836.7 L829.2 840.0 L827.3 843.1 L825.3 846.1 L823.3 848.9 L821.3 851.6 L819.2 854.1 L817.1 856.5 L814.9 858.7 L812.6 860.8 L810.4 862.7 L808.1 864.4 L805.8 865.9 L803.4 867.3 L801.1 868.5" fill="none" stroke="#000" stroke-width="2.7"/>
<path d="M736.7 600 L786 600" fill="none" stroke="#000" stroke-width="2.7"/>
<path d="M734.0 654.7 L731.9 653.8 L729.7 653.1 L727.5 652.6 L725.3 652.2 L723.0 652.0 L720.8 652.0 L718.6 652.2 L716.4 652.6 L714.2 653.1 L712.0 653.9 L709.9 654.8 L707.7 655.9 L705.6 657.2 L703.6 658.6 L701.5 660.2 L699.5 662.0 L697.6 663.9 L695.7 666.0 L693.9 668.3 L692.1 670.7 L690.4 673.2 L688.8 675.9 L687.2 678.7 L685.7 681.7 L684.3 684.8 L683.0 687.9 L681.7 691.2 L680.6 694.6 L679.5 698.1 L678.5 701.7 L677.6 705.3 L676.8 709.0 L676.1 712.8 L675.5 716.6 L675.0 720.5 L674.6 724.4 L674.3 728.3 L674.1 732.3 L674.0 736.3 L674.0 740.3 L674.1 744.2 L674.3 748.2 L674.7 752.1 L675.1 756.0 L675.6 759.9 L676.2 763.7 L676.9 767.5 L677.7 771.2 L678.6 774.8 L679.6 778.4 L680.7 781.8 L681.9 785.2 L683.1 788.5 L684.5 791.7 L685.9 794.7 L687.4 797.6 L689.0 800.4 L690.6 803.1 L692.3 805.6 L694.1 808.0 L696.0 810.2 L697.9 812.3 L699.8 814.2 L701.8 816.0 L703.8 817.6 L705.9 819.0 L708.0 820.3 L710.1 821.3 L712.3 822.2 L714.5 822.9" fill="none" stroke="#000" stroke-width="2.7"/>
<path d="M733.8 659.7 C734.4 658.3 736.1 653.8 737.5 651.5 C738.9 649.2 740.2 647.5 742.0 645.7 C743.8 644.0 745.7 642.4 748.0 641.0 C750.3 639.6 752.7 638.4 756.0 637.5 C759.3 636.6 763.4 635.7 767.7 635.8 C772.0 635.8 777.0 636.2 781.7 638.0 C786.4 639.8 791.4 642.4 795.7 646.8 C800.0 651.2 803.9 657.1 807.4 664.3 C810.9 671.5 814.8 681.5 816.7 690.0 C818.6 698.5 818.4 705.8 819.0 715.0 C819.6 724.2 820.7 733.3 820.2 745.0 C819.7 756.7 818.4 773.8 816.0 785.0 C813.6 796.2 808.6 802.8 806.0 812.0 C803.4 821.2 801.4 830.3 800.5 840.0 C799.6 849.7 799.9 860.8 800.5 870.0 C801.1 879.2 801.9 886.5 804.0 895.0 C806.1 903.5 809.7 911.4 813.2 921.0 C816.8 930.6 820.5 941.3 825.3 952.6 C830.1 963.9 838.0 977.5 842.2 988.8 C846.4 1000.1 849.3 1015.0 850.7 1020.2" fill="none" stroke="#000" stroke-width="2.7"/>
<path d="M731.5 704.0 C730.9 698.8 731.9 691.0 732.5 685.0 C733.1 679.0 733.9 673.2 735.0 668.0 C736.1 662.8 737.3 657.8 739.0 654.0 C740.7 650.2 741.8 647.8 745.0 645.5 C748.2 643.2 753.2 640.8 758.3 640.4 C763.4 640.0 770.7 641.2 775.8 643.3 C780.9 645.3 785.6 648.2 788.7 652.7 C791.8 657.2 793.3 663.8 794.5 670.0 C795.7 676.2 796.2 683.8 796.0 690.0 C795.8 696.2 795.1 702.2 793.3 707.0 C791.5 711.8 788.5 716.0 785.0 719.0 C781.5 722.0 776.0 723.8 772.0 725.0 C768.0 726.2 765.0 726.4 760.7 726.2 C756.4 726.0 750.1 725.7 746.0 724.0 C741.9 722.3 738.4 719.3 736.0 716.0 C733.6 712.7 732.1 709.2 731.5 704.0Z" fill="none" stroke="#000" stroke-width="2.7"/>
<path d="M726.3 771.4 C728.7 770.6 736.3 767.2 740.8 766.6 C745.2 766.0 751.0 767.4 753.0 767.5" fill="none" stroke="#000" stroke-width="2.3"/>
<path d="M758 769.5 L765.5 773.5" fill="none" stroke="#000" stroke-width="2.3"/>
<path d="M731 782.3 L749.2 784.7" fill="none" stroke="#000" stroke-width="2.3"/>
<path d="M726.3 811.3 L732.3 814.9" fill="none" stroke="#000" stroke-width="2.3"/>
<path d="M742.0 818.5 C744.0 818.6 750.0 819.2 754.0 819.0 C758.0 818.8 764.1 817.6 766.1 817.3" fill="none" stroke="#000" stroke-width="2.3"/>
</g>
<g fill="none" stroke="#000">
<path d="M990.3 817.1 A64 64 0 1 1 958.8 819.1" stroke-width="3.1" stroke-linecap="round"/>
<path d="M967.4 815.2 L954.3 812.6 L958.7 825.1 Z" fill="#000" stroke-width="1"/>
<path d="M1026.2 880.0 A47.6 47.6 0 1 0 1001.4 921.8" stroke-width="7.2" stroke-linecap="butt"/>
<rect x="973.3" y="820.2" width="13.4" height="9" rx="1.5" fill="#000" stroke="none"/>
<path d="M978.6 842.3 L978.6 835.8" stroke-width="2" stroke-linecap="butt"/>
<path d="M997.5 847.4 L1000.7 841.7" stroke-width="2" stroke-linecap="butt"/>
<path d="M1011.2 861.1 L1016.9 857.9" stroke-width="2" stroke-linecap="butt"/>
<path d="M1016.3 880.0 L1022.8 880.0" stroke-width="2" stroke-linecap="butt"/>
<path d="M997.5 912.6 L1000.7 918.3" stroke-width="2" stroke-linecap="butt"/>
<path d="M978.6 917.7 L978.6 924.2" stroke-width="2" stroke-linecap="butt"/>
<path d="M959.8 912.6 L956.5 918.3" stroke-width="2" stroke-linecap="butt"/>
<path d="M946.0 898.9 L940.3 902.1" stroke-width="2" stroke-linecap="butt"/>
<path d="M940.9 880.0 L934.4 880.0" stroke-width="2" stroke-linecap="butt"/>
<path d="M946.0 861.1 L940.3 857.9" stroke-width="2" stroke-linecap="butt"/>
<path d="M959.8 847.4 L956.5 841.7" stroke-width="2" stroke-linecap="butt"/>
<path d="M956.4 847.9 L978.6 880 L1002.3 858.8" stroke-width="2.9" stroke-linejoin="miter" stroke-linecap="butt"/>
<circle cx="978.6" cy="880" r="3.6" fill="#000" stroke="none"/>
</g>
<text transform="translate(964.95 909.5) scale(0.316 0.311)" x="0" y="0" font-family="Liberation Sans" font-weight="bold" font-size="100" fill="#000" stroke="#000" stroke-width="3.22">2</text>
<text transform="translate(984.76 909.5) scale(0.321 0.311)" x="0" y="0" font-family="Liberation Sans" font-weight="bold" font-size="100" fill="#000" stroke="#000" stroke-width="3.22">4</text>
<text transform="translate(1007.6 909.5) scale(0.342 0.315)" x="0" y="0" font-family="Liberation Sans" font-weight="bold" font-size="100" fill="#000" stroke="#000" stroke-width="3.17">h</text>
<rect x="872" y="190" width="11" height="11" fill="#000"/>
<rect x="872" y="212.0" width="11" height="21.5" fill="#000"/>
<rect x="872" y="244.6" width="11" height="21.5" fill="#000"/>
<rect x="872" y="277.1" width="11" height="21.5" fill="#000"/>
<rect x="872" y="309.6" width="11" height="21.5" fill="#000"/>
<rect x="872" y="342.2" width="11" height="21.5" fill="#000"/>
<rect x="872" y="374.8" width="11" height="21.5" fill="#000"/>
<rect x="872" y="407.3" width="11" height="21.5" fill="#000"/>
<rect x="872" y="439.8" width="11" height="21.5" fill="#000"/>
<rect x="872" y="472.5" width="11" height="4.5" fill="#000"/>
<rect x="873" y="601" width="10.600000000000023" height="10.200000000000045" fill="#000"/>
<rect x="873" y="623.0" width="10.600000000000023" height="20.7" fill="#000"/>
<rect x="873" y="655.6" width="10.600000000000023" height="20.7" fill="#000"/>
<rect x="873" y="688.1" width="10.600000000000023" height="20.7" fill="#000"/>
<rect x="873" y="720.7" width="10.600000000000023" height="20.7" fill="#000"/>
<rect x="873" y="753.3" width="10.600000000000023" height="20.7" fill="#000"/>
<rect x="873" y="785.9" width="10.600000000000023" height="20.7" fill="#000"/>
<rect x="873" y="818.4" width="10.600000000000023" height="20.7" fill="#000"/>
<rect x="873" y="851.0" width="10.600000000000023" height="20.7" fill="#000"/>
<rect x="873" y="882.5" width="10.600000000000023" height="6.0" fill="#000"/>
</svg></body></html>
